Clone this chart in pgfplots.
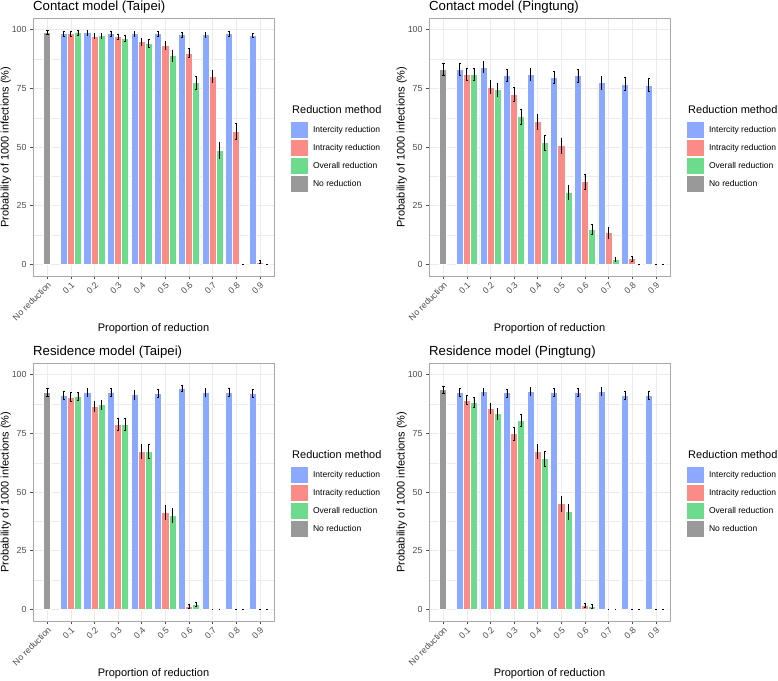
\documentclass[border=0pt]{standalone}
\usepackage{fontspec}
\setmainfont{Liberation Sans}
\usepackage{pgfplots}
\pgfplotsset{compat=1.18}
\usepackage{pgfplotstable}

\definecolor{cInter}{HTML}{8AA9FF}
\definecolor{cIntra}{HTML}{FA8B86}
\definecolor{cOver}{HTML}{6CDC8C}
\definecolor{cNone}{HTML}{999999}
\definecolor{tickgray}{HTML}{4D4D4D}
\definecolor{gridgray}{HTML}{EBEBEB}
\definecolor{bordergray}{HTML}{A8A8A8}

% x: 2..10 = proportion 0.1..0.9 ; "No reduction" sits at x=1
\pgfplotstableread{
x inter ie intra ae over oe
2  98.3 1.0 98.3 1.0 98.7 0.9
3  98.7 0.9 97.4 1.1 97.6 1.1
4  98.3 1.0 97.0 1.2 96.2 1.3
5  98.3 1.0 94.9 1.5 94.2 1.6
6  98.3 1.0 93.2 1.7 88.9 2.2
7  98.0 1.0 90.1 2.0 77.4 2.8
8  98.0 1.0 80.1 2.7 48.5 3.4
9  98.3 1.0 56.7 3.3 0.0 0.0
10 97.7 1.0 1.0 0.7 0.0 0.0
}\contactTaipei

\pgfplotstableread{
x inter ie intra ae over oe
2  83.3 2.5 80.9 2.6 80.9 2.6
3  84.1 2.4 75.6 2.8 74.5 2.8
4  80.7 2.6 72.5 2.9 63.1 3.2
5  81.0 2.6 60.9 3.2 51.9 3.3
6  79.9 2.6 50.6 3.3 30.8 3.0
7  80.4 2.6 35.2 3.1 14.9 2.3
8  77.4 2.7 13.5 2.2 2.1 1.0
9  76.9 2.7 2.4 1.0 0.0 0.0
10 76.5 2.7 0.0 0.0 0.0 0.0
}\contactPingtung

\pgfplotstableread{
x inter ie intra ae over oe
2  91.2 1.8 90.5 1.9 90.8 1.8
3  92.5 1.7 86.6 2.2 87.2 2.1
4  92.6 1.7 78.8 2.6 78.8 2.6
5  91.5 1.8 67.5 3.0 67.3 3.0
6  91.9 1.7 41.3 3.1 40.1 3.1
7  94.3 1.4 1.4 0.8 2.0 0.9
8  92.5 1.7 0.0 0.0 0.0 0.0
9  92.6 1.7 0.0 0.0 0.0 0.0
10 91.9 1.7 0.0 0.0 0.0 0.0
}\residenceTaipei

\pgfplotstableread{
x inter ie intra ae over oe
2  92.6 1.7 89.3 2.0 88.2 2.1
3  92.8 1.6 85.7 2.3 83.5 2.4
4  92.3 1.7 74.9 2.8 80.5 2.6
5  93.0 1.6 67.5 3.0 64.2 3.1
6  92.6 1.7 45.0 3.2 41.6 3.2
7  92.6 1.7 1.7 0.9 1.4 0.8
8  92.9 1.6 0.0 0.0 0.0 0.0
9  91.3 1.8 0.0 0.0 0.0 0.0
10 91.2 1.8 0.0 0.0 0.0 0.0
}\residencePingtung

\pgfplotsset{
  panel/.style={
    scale only axis, width=241pt, height=258pt,
    xmin=0.4, xmax=10.6, ymin=-5, ymax=105,
    xtick={1,...,10},
    xticklabels={No reduction,0.1,0.2,0.3,0.4,0.5,0.6,0.7,0.8,0.9},
    ytick={0,25,50,75,100},
    minor ytick={12.5,37.5,62.5,87.5},
    grid=both,
    major grid style={gridgray, line width=0.6pt},
    minor grid style={gridgray, line width=0.3pt},
    tick pos=left, tick align=outside,
    major tick length=3pt, minor tick length=0pt,
    tick style={tickgray, line width=0.5pt},
    axis line style={bordergray, line width=0.5pt},
    xticklabel style={rotate=45, anchor=north east, inner sep=1.5pt,
                      font=\fontsize{8.8}{10}\selectfont, text=tickgray},
    yticklabel style={font=\fontsize{8.8}{10}\selectfont, text=tickgray},
    /pgf/number format/assume math mode=true,
    xlabel={Proportion of reduction},
    ylabel={Probability of 1000 infections (\%)},
    label style={font=\fontsize{11}{13}\selectfont},
    xlabel style={at={(0.5,0)}, anchor=north, yshift=-44pt},
    ylabel shift=-6pt,
    every axis title/.style={at={(0,1)}, anchor=base west, yshift=7.5pt, inner sep=0pt,
                 font=\fontsize{13.2}{15}\selectfont},
    ybar, bar width=0.3,
    legend style={at={(1,0.601)}, anchor=north west, xshift=16pt,
                  draw=none, fill=none, inner sep=0pt, row sep=0pt,
                  column sep=5pt, nodes={inner sep=0pt},
                  font=\fontsize{8.5}{10}\selectfont},
    legend cell align=left,
    clip mode=individual,
    error bars/y dir=both, error bars/y explicit,
    error bars/error bar style={black, line width=0.65pt},
    error bars/error mark options={black, line width=0.5pt, mark size=0.8pt, rotate=90},
  },
  barleg/.style={legend image code/.code={
      \draw[##1, draw=white, line width=0.6pt] (0pt,-8.65pt) rectangle (17.3pt,8.65pt);}},
  inter/.style={fill=cInter, draw=white, line width=0.6pt, bar shift=-0.3, barleg},
  intra/.style={fill=cIntra, draw=white, line width=0.6pt, bar shift=0, barleg},
  over/.style={fill=cOver, draw=white, line width=0.6pt, bar shift=0.3, barleg},
  none/.style={fill=cNone, draw=white, line width=0.6pt, bar shift=0, barleg,
               error bars/error mark options={black, line width=0.5pt, mark size=1.6pt, rotate=90}},
}

\newcommand{\legtitle}{\node[anchor=base west, inner sep=0pt, font=\fontsize{11}{13}\selectfont]
  at (rel axis cs:1,0.601) [xshift=18pt, yshift=7pt] {Reduction method};}

\begin{document}
\begin{tikzpicture}
\path[use as bounding box] (0,0) rectangle (778pt,-680pt);

\begin{axis}[panel, at={(33pt,-18pt)}, anchor=north west, title={Contact model (Taipei)}]
\addplot[inter] table[x=x, y=inter, y error=ie] {\contactTaipei};
\addlegendentry{Intercity reduction}
\addplot[intra] table[x=x, y=intra, y error=ae] {\contactTaipei};
\addlegendentry{Intracity reduction}
\addplot[over] table[x=x, y=over, y error=oe] {\contactTaipei};
\addlegendentry{Overall reduction}
\addplot[none] coordinates {(1,99.0) +- (0,0.8)};
\addlegendentry{No reduction}
\legtitle
\end{axis}

\begin{axis}[panel, at={(429pt,-18pt)}, anchor=north west, title={Contact model (Pingtung)}]
\addplot[inter] table[x=x, y=inter, y error=ie] {\contactPingtung};
\addlegendentry{Intercity reduction}
\addplot[intra] table[x=x, y=intra, y error=ae] {\contactPingtung};
\addlegendentry{Intracity reduction}
\addplot[over] table[x=x, y=over, y error=oe] {\contactPingtung};
\addlegendentry{Overall reduction}
\addplot[none] coordinates {(1,83.0) +- (0,2.5)};
\addlegendentry{No reduction}
\legtitle
\end{axis}

\begin{axis}[panel, at={(33pt,-363pt)}, anchor=north west, title={Residence model (Taipei)}]
\addplot[inter] table[x=x, y=inter, y error=ie] {\residenceTaipei};
\addlegendentry{Intercity reduction}
\addplot[intra] table[x=x, y=intra, y error=ae] {\residenceTaipei};
\addlegendentry{Intracity reduction}
\addplot[over] table[x=x, y=over, y error=oe] {\residenceTaipei};
\addlegendentry{Overall reduction}
\addplot[none] coordinates {(1,92.6) +- (0,1.7)};
\addlegendentry{No reduction}
\legtitle
\end{axis}

\begin{axis}[panel, at={(429pt,-363pt)}, anchor=north west, title={Residence model (Pingtung)}]
\addplot[inter] table[x=x, y=inter, y error=ie] {\residencePingtung};
\addlegendentry{Intercity reduction}
\addplot[intra] table[x=x, y=intra, y error=ae] {\residencePingtung};
\addlegendentry{Intracity reduction}
\addplot[over] table[x=x, y=over, y error=oe] {\residencePingtung};
\addlegendentry{Overall reduction}
\addplot[none] coordinates {(1,93.8) +- (0,1.5)};
\addlegendentry{No reduction}
\legtitle
\end{axis}
\end{tikzpicture}
\end{document}
